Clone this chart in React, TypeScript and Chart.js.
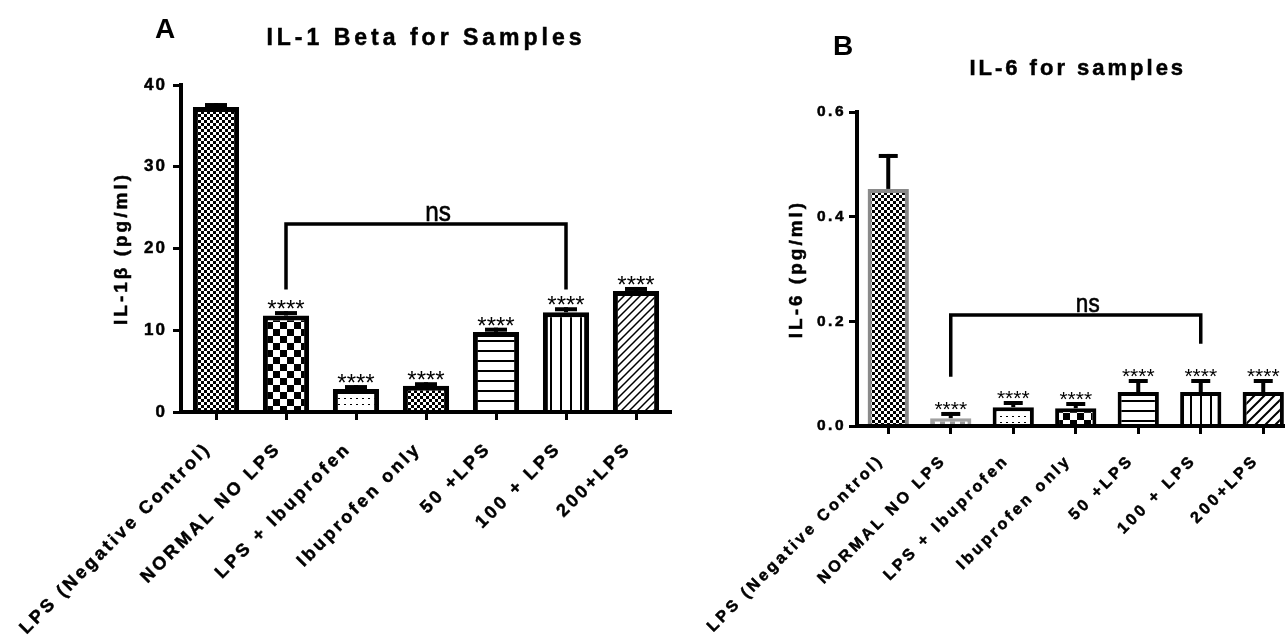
import React, { useEffect, useRef } from 'react';
import { Chart, registerables } from 'chart.js';

Chart.register(...registerables);

// ---------------- data ----------------
const categories = [
  'LPS (Negative Control)',
  'NORMAL NO LPS',
  'LPS + Ibuprofen',
  'Ibuprofen only',
  '50 +LPS',
  '100 + LPS',
  '200+LPS',
];

const il1Values = [37.3, 11.8, 2.8, 3.2, 9.8, 12.2, 14.8];
const il1Errors = [0.25, 0.3, 0.25, 0.2, 0.27, 0.37, 0.25];
const il1Ticks = [0, 10, 20, 30, 40];
const il1Stars = ['', '****', '****', '****', '****', '****', '****'];
const il1BracketBars = [1, 5];
const il1BracketLevels = [15.0, 23.0, 15.0];

const il6Values = [0.453, 0.015, 0.036, 0.034, 0.065, 0.065, 0.065];
const il6Errors = [0.063, 0.008, 0.008, 0.008, 0.021, 0.021, 0.021];
const il6Ticks = [0, 0.2, 0.4, 0.6];
const il6Stars = ['', '****', '****', '****', '****', '****', '****'];
const il6BracketBars = [1, 5];
const il6BracketLevels = [0.094, 0.212, 0.157];

const FONT = '"Liberation Sans", Arial, Helvetica, sans-serif';

// ---------------- patterns ----------------
function makePattern(w: number, h: number, draw: (c: CanvasRenderingContext2D) => void) {
  const cv = document.createElement('canvas');
  cv.width = w;
  cv.height = h;
  const c = cv.getContext('2d') as CanvasRenderingContext2D;
  c.fillStyle = '#fff';
  c.fillRect(0, 0, w, h);
  draw(c);
  return c.createPattern(cv, 'repeat') as CanvasPattern;
}
const checker = (cell: number, color: string) =>
  makePattern(cell * 2, cell * 2, (c) => {
    c.fillStyle = color;
    c.fillRect(0, 0, cell, cell);
    c.fillRect(cell, cell, cell, cell);
  });
const dots = () =>
  makePattern(6, 6, (c) => {
    c.fillStyle = '#000';
    c.fillRect(2, 2, 2, 1);
  });
const hLines = (gap: number) =>
  makePattern(4, gap, (c) => {
    c.fillStyle = '#000';
    c.fillRect(0, 0, 4, 2);
  });
const vLines = (gap: number) =>
  makePattern(gap, 4, (c) => {
    c.fillStyle = '#000';
    c.fillRect(0, 0, 2, 4);
  });
const diag = (gap: number, lw: number) =>
  makePattern(gap, gap, (c) => {
    c.strokeStyle = '#000';
    c.lineWidth = lw;
    c.beginPath();
    c.moveTo(0, gap);
    c.lineTo(gap, 0);
    c.moveTo(-2, 2);
    c.lineTo(2, -2);
    c.moveTo(gap - 2, gap + 2);
    c.lineTo(gap + 2, gap - 2);
    c.stroke();
  });

type Panel = {
  values: number[];
  errors: number[];
  ticks: number[];
  stars: string[];
  bracketBars: number[];
  bracketLevels: number[];
  yTitle: string;
  title: string;
  titleSize: number;
  titleBaseline: number;
  titleDx: number;
  letter: string;
  letterX: number;
  letterY: number;
  areaLeft: number;
  areaTop: number;
  areaBottom: number;
  padRight: number;
  yTitlePad: number;
  yPad: number;
  xPad: number;
  xLabelSize: number;
  yTickSize: number;
  yTitleSize: number;
  starSize: number;
  nsSize: number;
  capWidth: number;
  borderWidth: number;
  spacing: Record<string, string>;
  backgrounds: (CanvasPattern | string)[];
  borders: string[];
  fmt: (v: number) => string;
};

function buildChart(canvas: HTMLCanvasElement, p: Panel) {
  const H = canvas.height;
  const heavyKey = String(p.yTitleSize);
  const overlay = {
    id: 'overlay' + p.letter,
    beforeInit(chart: any) {
      const ctx: any = chart.ctx;
      const fill = ctx.fillText.bind(ctx);
      const stroke = ctx.strokeText.bind(ctx);
      const measure = ctx.measureText.bind(ctx);
      const keyOf = () => {
        const m = /(\d+(?:\.\d+)?)px/.exec(ctx.font);
        return m ? String(parseFloat(m[1])) : '';
      };
      const apply = () => {
        ctx.letterSpacing = p.spacing[keyOf()] || '0px';
      };
      ctx.fillText = (t: string, x: number, y: number, w?: number) => {
        apply();
        const r = w === undefined ? fill(t, x, y) : fill(t, x, y, w);
        if (keyOf() === heavyKey) {
          ctx.save();
          ctx.strokeStyle = ctx.fillStyle;
          ctx.lineWidth = 0.5;
          w === undefined ? stroke(t, x, y) : stroke(t, x, y, w);
          ctx.restore();
        }
        return r;
      };
      ctx.strokeText = (t: string, x: number, y: number, w?: number) => {
        apply();
        return w === undefined ? stroke(t, x, y) : stroke(t, x, y, w);
      };
      ctx.measureText = (t: string) => {
        apply();
        return measure(t);
      };
    },
    beforeDraw(chart: any) {
      // centre the rotated category labels on their tick line
      const items = chart.scales.x.getLabelItems();
      items.forEach((it: any) => {
        it.textOffset = 0;
      });
    },
    afterDatasetsDraw(chart: any) {
      const ctx: CanvasRenderingContext2D = chart.ctx;
      const ys = chart.scales.y;
      const meta = chart.getDatasetMeta(0);
      ctx.save();
      ctx.strokeStyle = '#000';
      ctx.fillStyle = '#000';
      ctx.lineCap = 'butt';
      meta.data.forEach((bar: any, i: number) => {
        const x = bar.x;
        const yTop = ys.getPixelForValue(p.values[i]);
        const yCap = ys.getPixelForValue(p.values[i] + p.errors[i]);
        ctx.lineWidth = 4;
        ctx.beginPath();
        ctx.moveTo(x, yTop);
        ctx.lineTo(x, yCap - 2);
        ctx.stroke();
        ctx.beginPath();
        ctx.moveTo(x - p.capWidth / 2, yCap);
        ctx.lineTo(x + p.capWidth / 2, yCap);
        ctx.stroke();
        if (p.stars[i]) {
          ctx.font = `${p.starSize}px ${FONT}`;
          ctx.textAlign = 'center';
          ctx.textBaseline = 'alphabetic';
          ctx.fillText(p.stars[i], x, yCap - 10 + p.starSize * 0.58);
        }
      });
      const xa = meta.data[p.bracketBars[0]].x;
      const xb = meta.data[p.bracketBars[1]].x;
      const [l1, top, l2] = p.bracketLevels.map((v) => ys.getPixelForValue(v));
      ctx.lineWidth = 3.5;
      ctx.lineJoin = 'miter';
      ctx.beginPath();
      ctx.moveTo(xa, l1);
      ctx.lineTo(xa, top);
      ctx.lineTo(xb, top);
      ctx.lineTo(xb, l2);
      ctx.stroke();
      ctx.save();
      ctx.translate((xa + xb) / 2 + 12, top - 3);
      ctx.scale(0.9, 1);
      ctx.font = `${p.nsSize}px ${FONT}`;
      ctx.textAlign = 'center';
      ctx.textBaseline = 'alphabetic';
      ctx.lineWidth = 0.6;
      ctx.fillText('ns', 0, 0);
      ctx.strokeText('ns', 0, 0);
      ctx.restore();
      ctx.restore();
    },
    afterDraw(chart: any) {
      const ctx: CanvasRenderingContext2D = chart.ctx;
      const area = chart.chartArea;
      ctx.save();
      ctx.fillStyle = '#000';
      ctx.strokeStyle = '#000';
      ctx.lineWidth = 0.5;
      ctx.font = `bold ${p.titleSize}px ${FONT}`;
      ctx.textAlign = 'center';
      ctx.textBaseline = 'alphabetic';
      const tx = (area.left + area.right) / 2 + p.titleDx;
      ctx.fillText(p.title, tx, p.titleBaseline);
      ctx.strokeText(p.title, tx, p.titleBaseline);
      ctx.font = `bold 28px ${FONT}`;
      ctx.textAlign = 'left';
      ctx.fillText(p.letter, p.letterX, p.letterY);
      ctx.restore();
    },
  };

  return new Chart(canvas, {
    type: 'bar',
    data: {
      labels: categories,
      datasets: [
        {
          data: p.values,
          backgroundColor: p.backgrounds as any,
          borderColor: p.borders,
          borderWidth: p.borderWidth,
          borderSkipped: 'start',
          categoryPercentage: 1,
          barPercentage: 0.66,
        },
      ],
    },
    options: {
      animation: false,
      responsive: false,
      maintainAspectRatio: false,
      events: [],
      layout: { padding: { left: 0, top: p.areaTop, right: p.padRight, bottom: 0 } },
      plugins: {
        legend: { display: false },
        tooltip: { enabled: false },
        title: { display: false },
      },
      scales: {
        x: {
          type: 'category',
          offset: true,
          grid: {
            display: true,
            drawOnChartArea: false,
            drawTicks: true,
            tickLength: 8,
            tickWidth: 3,
            tickColor: '#000',
            offset: false,
          },
          border: { display: true, color: '#000', width: 4, z: 1 },
          ticks: {
            autoSkip: false,
            minRotation: 45,
            maxRotation: 45,
            color: '#000',
            padding: p.xPad,
            textStrokeColor: '#000',
            textStrokeWidth: 0.5,
            font: { family: FONT, weight: 'bold', size: p.xLabelSize },
          },
          afterFit(s: any) {
            s.height = H - p.areaBottom;
            s.paddingLeft = 0;
            s.paddingRight = 0;
          },
        } as any,
        y: {
          min: 0,
          max: p.ticks[p.ticks.length - 1],
          afterBuildTicks(s: any) {
            s.ticks = p.ticks.map((v) => ({ value: v }));
          },
          grid: {
            display: true,
            drawOnChartArea: false,
            drawTicks: true,
            tickLength: 8,
            tickWidth: 3,
            tickColor: '#000',
          },
          border: { display: true, color: '#000', width: 4, z: 1 },
          ticks: {
            color: '#000',
            padding: p.yPad,
            textStrokeColor: '#000',
            textStrokeWidth: 0.5,
            font: { family: FONT, weight: 'bold', size: p.yTickSize },
            callback: (v: any) => p.fmt(Number(v)),
          },
          title: {
            display: true,
            text: p.yTitle,
            color: '#000',
            font: { family: FONT, weight: 'bold', size: p.yTitleSize },
            padding: { top: p.yTitlePad, bottom: 0 },
          },
          afterFit(s: any) {
            s.width = p.areaLeft;
          },
        } as any,
      },
    },
    plugins: [overlay as any],
  });
}

export default function App() {
  const refA = useRef<HTMLCanvasElement>(null);
  const refB = useRef<HTMLCanvasElement>(null);

  useEffect(() => {
    const gray = '#8a8a8a';
    const chartA = buildChart(refA.current as HTMLCanvasElement, {
      values: il1Values,
      errors: il1Errors,
      ticks: il1Ticks,
      stars: il1Stars,
      bracketBars: il1BracketBars,
      bracketLevels: il1BracketLevels,
      yTitle: 'IL-1β (pg/ml)',
      title: 'IL-1 Beta for Samples',
      titleSize: 23,
      titleBaseline: 45,
      titleDx: 0,
      letter: 'A',
      letterX: 155,
      letterY: 38,
      areaLeft: 181,
      areaTop: 85,
      areaBottom: 412,
      padRight: 29,
      yTitlePad: 110,
      yPad: 6,
      xPad: 26,
      xLabelSize: 18,
      yTickSize: 17,
      yTitleSize: 19,
      starSize: 24,
      nsSize: 27,
      capWidth: 22,
      borderWidth: 5,
      spacing: { '18': '3px', '17': '2px', '19': '3px', '23': '4px' },
      backgrounds: [
        checker(3, '#000'),
        checker(7, '#000'),
        dots(),
        checker(3, '#000'),
        hLines(10),
        vLines(10),
        diag(8, 1.5),
      ],
      borders: ['#000', '#000', '#000', '#000', '#000', '#000', '#000'],
      fmt: (v) => String(v),
    });
    const chartB = buildChart(refB.current as HTMLCanvasElement, {
      values: il6Values,
      errors: il6Errors,
      ticks: il6Ticks,
      stars: il6Stars,
      bracketBars: il6BracketBars,
      bracketLevels: il6BracketLevels,
      yTitle: 'IL-6 (pg/ml)',
      title: 'IL-6 for samples',
      titleSize: 22,
      titleBaseline: 75,
      titleDx: 2,
      letter: 'B',
      letterX: 183,
      letterY: 55,
      areaLeft: 207,
      areaTop: 112,
      areaBottom: 426,
      padRight: 25.5,
      yTitlePad: 135,
      yPad: 3,
      xPad: 24,
      xLabelSize: 16,
      yTickSize: 15.5,
      yTitleSize: 19,
      starSize: 21,
      nsSize: 25,
      capWidth: 19,
      borderWidth: 4,
      spacing: { '16': '3.1px', '15.5': '2.5px', '19': '3px', '22': '3px' },
      backgrounds: [
        checker(3, '#000'),
        checker(5, '#9a9a9a'),
        dots(),
        checker(7, '#000'),
        hLines(10),
        vLines(10),
        diag(10, 2),
      ],
      borders: [gray, '#a0a0a0', '#000', '#000', '#000', '#000', '#000'],
      fmt: (v) => v.toFixed(1),
    });
    return () => {
      chartA.destroy();
      chartB.destroy();
    };
  }, []);

  return (
    <div
      style={{
        position: 'fixed',
        left: 0,
        top: 0,
        width: 1285,
        height: 639,
        overflow: 'hidden',
        background: '#fff',
      }}
    >
      <canvas
        ref={refA}
        width={700}
        height={639}
        style={{ position: 'absolute', left: 0, top: 0, width: 700, height: 639 }}
      />
      <canvas
        ref={refB}
        width={670}
        height={639}
        style={{ position: 'absolute', left: 650, top: 0, width: 670, height: 639 }}
      />
    </div>
  );
}
